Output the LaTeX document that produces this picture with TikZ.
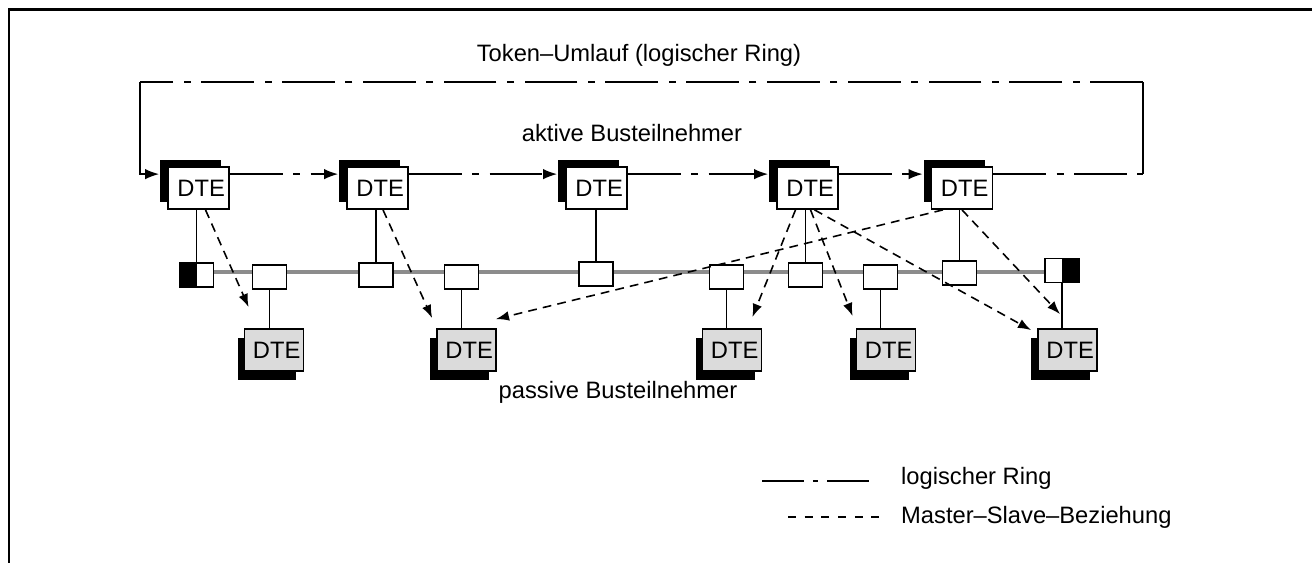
\documentclass[tikz,border=0pt]{standalone}
\usepackage{fontspec}
\setmainfont{Liberation Sans}
\usepackage{tikz}
\usetikzlibrary{arrows.meta, calc, shadows, backgrounds, positioning}

\begin{document}
\begin{tikzpicture}[x=0.02cm, y=-0.02cm,
        font=\fontsize{13.5}{16}\selectfont,
        aktiv/.style={draw, line width=1pt, fill=white, inner sep=0pt,
            minimum width=1.22cm, minimum height=0.84cm,
            general shadow={fill=black, shadow xshift=-0.16cm, shadow yshift=0.14cm}},
        passiv/.style={draw, line width=1pt, fill=black!14, inner sep=0pt,
            minimum width=1.18cm, minimum height=0.84cm,
            general shadow={fill=black, shadow xshift=-0.14cm, shadow yshift=-0.18cm}},
        tap/.style={draw, line width=1pt, fill=white, inner sep=0pt,
            minimum width=0.68cm, minimum height=0.48cm},
        abschlussL/.style={tap, path picture={\fill[black] (path picture bounding box.south west)
            rectangle (path picture bounding box.north);}},
        abschlussR/.style={tap, path picture={\fill[black] (path picture bounding box.south)
            rectangle (path picture bounding box.north east);}},
        bus/.style={line width=2.3pt, black!45},
        ring/.style={line width=1pt, dash pattern=on 30pt off 6pt on 4pt off 6pt},
        ringpfeil/.style={-{Latex[length=8pt, width=6pt]}},
        ms/.style={line width=0.9pt, dash pattern=on 5pt off 3.5pt,
            -{Latex[length=7.5pt, width=5.5pt]}}]
    \useasboundingbox (0,0) rectangle (1312,563);
    \draw[line width=1.7pt] (9,563) -- (9,10) -- (1312,10);

    \node (titel) at (639,55) {Token–Umlauf (logischer Ring)};
    \node (aktivtext) at (632,133) {aktive Busteilnehmer};
    \node (passivtext) at (618,392) {passive Busteilnehmer};

    % aktive und passive Teilnehmer
    \foreach \n/\x in {a1/198.5, a2/377.5, a3/596.5, a4/807.5, a5/962}
        \node[aktiv] (\n) at (\x,188) {\hspace{3pt}DTE};
    \foreach \n/\x in {p1/274, p2/466.5, p3/732, p4/886, p5/1067.5}
        \node[passiv] (\n) at (\x,350) {\hspace{3pt}DTE};

    % Bus mit Abschluss und Anschluessen
    \node[abschlussL] (termL) at (196.5,275) {};
    \node[abschlussR] (termR) at (1062,270.5) {};
    \foreach \n/\x/\y in {t2/376/275, t3/596/274, t4/805.5/275, t5/959.5/273,
                          s1/269.5/277, s2/461.5/277, s3/726.5/277, s4/880.5/277}
        \node[tap] (\n) at (\x,\y) {};
    \begin{scope}[on background layer]
        \draw[bus] (termL.east |- 0,272) -- (termR.west |- 0,272);
    \end{scope}

    \draw[line width=1pt] (termL.north) -- (termL.north |- a1.south);
    \foreach \t/\a in {t2/a2, t3/a3, t4/a4, t5/a5}
        \draw[line width=1pt] (\t.north) -- (\t.north |- \a.south);
    \foreach \s/\p in {s1/p1, s2/p2, s3/p3, s4/p4, termR/p5}
        \draw[line width=1pt] (\s.south) -- (\s.south |- \p.north);

    % logischer Ring
    \coordinate (obenL) at (140,82);
    \coordinate (obenR) at (1143,82);
    \coordinate (ringR) at ($(obenR |- a5.north east)+(0,8)$);
    \draw[ring] ($(a5.north east)+(0,8)$) -- (ringR);
    \draw[line width=1pt] (ringR) -- (obenR);
    \draw[ring] (obenR) -- (obenL);
    \draw[line width=1pt, ringpfeil] (obenL) |- ($(a1.north west)+(-8,8)$);
    \foreach \i/\j in {a1/a2, a2/a3, a3/a4, a4/a5}
        \draw[ring, ringpfeil] ($(\i.north east)+(0,8)$) -- ($(\j.north west)+(-8,8)$);

    % Master-Slave
    \draw[ms] ($(a1.south)+(7,0)$) -- ($(p1.north west)+(5,-21)$);
    \draw[ms] ($(a2.south)+(5.5,0)$) -- ($(p2.north west)+(-4,-10)$);
    \draw[ms] ($(a5.south)+(-19,0)$) -- ($(p2.north east)+(-1,-9)$);
    \draw[ms] ($(a4.south)+(-12,0)$) -- ($(p3.north east)+(-10,-11)$);
    \draw[ms] ($(a4.south)+(3,0)$) -- ($(p4.north west)+(-3,-12)$);
    \draw[ms] ($(a4.south)+(7,0)$) -- ($(p5.north west)+(-6,2)$);
    \draw[ms] (a5.south) -- ($(p5.north)+(-7.5,-14)$);

    % Legende
    \coordinate (l1a) at (762,481);
    \coordinate (l1b) at (872,481);
    \draw[line width=1pt, dash pattern=on 24pt off 5pt on 3pt off 5pt] (l1a) -- (l1b);
    \node[anchor=west] (l1) at (895,478) {logischer Ring};
    \coordinate (l2a) at (788,517);
    \coordinate (l2b) at (880,517);
    \draw[line width=0.9pt, dash pattern=on 4.5pt off 5pt] (l2a) -- (l2b);
    \node[anchor=west] (l2) at (895,517) {Master–Slave–Beziehung};
\end{tikzpicture}
\end{document}
